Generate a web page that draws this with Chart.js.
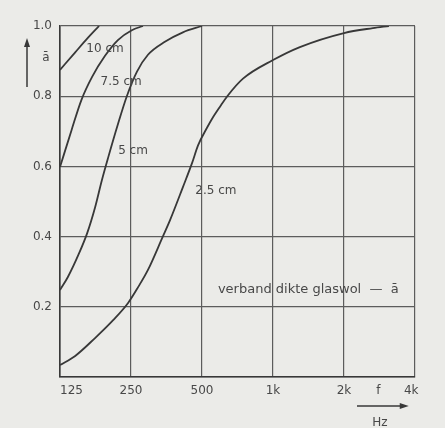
<!DOCTYPE html>
<html>
<head>
<meta charset="utf-8">
<script src="https://cdn.jsdelivr.net/npm/chart.js@4.4.1/dist/chart.umd.min.js"></script>
<style>
	body { margin: 0; background: #ebebe8; }
	#wrap { width: 445px; height: 428px; position: relative; }
</style>
</head>
<body>
<div id="wrap"><canvas id="absorptionChart"></canvas></div>
<script>
// frequency (Hz) and mean absorption coefficient per glass wool thickness
const freq10 = [125, 145, 164, 183];
const alpha10 = [0.875, 0.925, 0.966, 1.0];
const freq75 = [125, 140, 154, 171, 194, 220, 252, 281];
const alpha75 = [0.598, 0.704, 0.789, 0.855, 0.915, 0.96, 0.988, 1.0];
const freq5 = [125, 135, 150, 163, 176, 188, 200, 220, 240, 265, 295, 348, 415, 500];
const alpha5 = [0.248, 0.285, 0.35, 0.41, 0.483, 0.56, 0.625, 0.72, 0.8, 0.87, 0.918, 0.955, 0.982, 1.0];
const freq25 = [125, 145, 176, 210, 243, 268, 295, 341, 366, 415, 454, 481, 525, 551, 596, 640, 746, 1000, 1300, 2000, 2650, 3100];
const alpha25 = [0.034, 0.06, 0.111, 0.162, 0.211, 0.256, 0.305, 0.4, 0.447, 0.541, 0.61, 0.66, 0.71, 0.735, 0.77, 0.8, 0.85, 0.903, 0.94, 0.98, 0.994, 1.0];

const xTickValues = [125, 250, 500, 1000, 2000, 2800, 4000];
const xTickLabels = ["\u2007\u2007\u2007125", "250", "500", "1k", "2k", "f", "4k\u2007"];
const yTickValues = [0, 0.2, 0.4, 0.6, 0.8, 1.0];

const curveLabels = [
	{ text: "10 cm", f: 194, a: 0.934 },
	{ text: "7.5 cm", f: 227, a: 0.84 },
	{ text: "5 cm", f: 255, a: 0.644 },
	{ text: "2.5 cm", f: 573, a: 0.53 },
];

const inkColor = "#383838";
const gridColor = "#5c5c5c";
const textColor = "#484848";
const fontFamily = "'DejaVu Sans', sans-serif";

const toPoints = (xs, ys) => xs.map((x, i) => ({ x: x, y: ys[i] }));

function curve(label, xs, ys) {
	return {
		label: label,
		data: toPoints(xs, ys),
		borderColor: inkColor,
		borderWidth: 1.8,
		pointRadius: 0,
		cubicInterpolationMode: "monotone",
		fill: false,
	};
}

// curve names, legend line and the axis arrows
const annotations = {
	id: "annotations",
	afterDraw(chart) {
		const ctx = chart.ctx;
		const xs = chart.scales.x;
		const ys = chart.scales.y;
		const area = chart.chartArea;
		ctx.save();
		ctx.fillStyle = textColor;
		ctx.font = "12px " + fontFamily;
		ctx.textBaseline = "middle";
		ctx.textAlign = "center";
		curveLabels.forEach((l) => {
			ctx.fillText(l.text, xs.getPixelForValue(l.f), ys.getPixelForValue(l.a));
		});
		ctx.textAlign = "left";
		ctx.font = "13px " + fontFamily;
		ctx.fillText("verband dikte glaswol  \u2014  \u0101", xs.getPixelForValue(584), ys.getPixelForValue(0.248));
		ctx.font = "12px " + fontFamily;

		// a-bar with upward arrow
		ctx.strokeStyle = inkColor;
		ctx.fillStyle = inkColor;
		ctx.lineWidth = 1.5;
		const ax = area.left - 33;
		const aTop = ys.getPixelForValue(0.96);
		ctx.beginPath();
		ctx.moveTo(ax, ys.getPixelForValue(0.826));
		ctx.lineTo(ax, aTop + 4);
		ctx.stroke();
		ctx.beginPath();
		ctx.moveTo(ax, aTop - 2);
		ctx.lineTo(ax - 3, aTop + 7);
		ctx.lineTo(ax + 3, aTop + 7);
		ctx.closePath();
		ctx.fill();
		ctx.fillStyle = textColor;
		ctx.textAlign = "center";
		ctx.fillText("\u0101", area.left - 14, ys.getPixelForValue(0.91));

		// Hz with right arrow
		const hy = area.bottom + 29;
		const hEnd = xs.getPixelForValue(3690);
		ctx.fillStyle = inkColor;
		ctx.beginPath();
		ctx.moveTo(xs.getPixelForValue(2270), hy);
		ctx.lineTo(hEnd - 4, hy);
		ctx.stroke();
		ctx.beginPath();
		ctx.moveTo(hEnd + 2, hy);
		ctx.lineTo(hEnd - 7, hy - 3);
		ctx.lineTo(hEnd - 7, hy + 3);
		ctx.closePath();
		ctx.fill();
		ctx.fillStyle = textColor;
		ctx.fillText("Hz", xs.getPixelForValue(2840), area.bottom + 46);
		ctx.restore();
	},
};

const config = {
	type: "line",
	data: {
		datasets: [
			curve("10 cm", freq10, alpha10),
			curve("7.5 cm", freq75, alpha75),
			curve("5 cm", freq5, alpha5),
			curve("2.5 cm", freq25, alpha25),
		],
	},
	options: {
		responsive: true,
		maintainAspectRatio: false,
		animation: false,
		layout: { padding: { top: 26, right: 30, left: 0, bottom: 0 } },
		plugins: { legend: { display: false }, tooltip: { enabled: false } },
		scales: {
			x: {
				type: "logarithmic",
				min: 125,
				max: 4000,
				afterBuildTicks: (scale) => {
					scale.ticks = xTickValues.map((v) => ({ value: v }));
				},
				afterFit: (scale) => {
					scale.height = 51;
				},
				ticks: {
					autoSkip: false,
					maxRotation: 0,
					padding: 7,
					color: textColor,
					font: { family: fontFamily, size: 12 },
					callback: (value) => {
						const i = xTickValues.indexOf(value);
						return i >= 0 ? xTickLabels[i] : "";
					},
				},
				grid: {
					drawTicks: false,
					lineWidth: 1.2,
					color: (c) => (c.tick && c.tick.value === 2800 ? "rgba(0,0,0,0)" : gridColor),
				},
				border: { color: inkColor, width: 1.6 },
			},
			y: {
				min: 0,
				max: 1,
				afterBuildTicks: (scale) => {
					scale.ticks = yTickValues.map((v) => ({ value: v }));
				},
				afterFit: (scale) => {
					scale.width = 60;
				},
				ticks: {
					padding: 8,
					color: textColor,
					font: { family: fontFamily, size: 12 },
					callback: (value) => (value === 0 ? "" : value.toFixed(1)),
				},
				grid: { drawTicks: false, lineWidth: 1.2, color: gridColor },
				border: { color: inkColor, width: 1.6 },
			},
		},
	},
	plugins: [annotations],
};

const myChart = new Chart(document.getElementById("absorptionChart"), config);
</script>
</body>
</html>
